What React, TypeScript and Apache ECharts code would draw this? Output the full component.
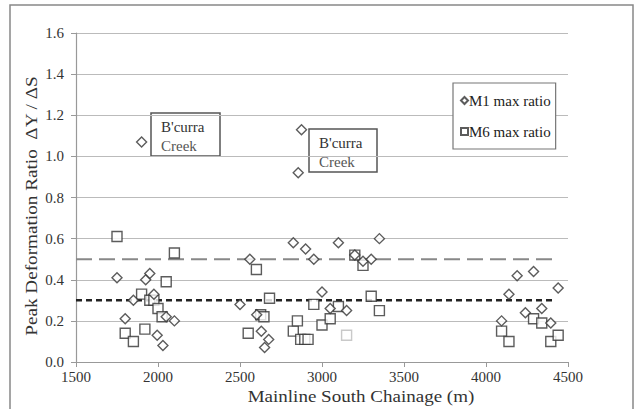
import React, { useEffect, useRef } from "react";
import * as echarts from "echarts";

const xTicks = [1500, 2000, 2500, 3000, 3500, 4000, 4500];
const yTicks = [0, 0.2, 0.4, 0.6, 0.8, 1.0, 1.2, 1.4, 1.6];

const m1X = [1750, 1800, 1850, 1900, 1925, 1950, 1975, 1995, 2030, 2050, 2100, 2500, 2560, 2602, 2630, 2650, 2675, 2825, 2855, 2875, 2900, 2950, 3000, 3050, 3100, 3150, 3200, 3250, 3300, 3350, 4095, 4140, 4190, 4240, 4290, 4340, 4395, 4440];
const m1Y = [0.41, 0.21, 0.30, 1.07, 0.40, 0.43, 0.33, 0.13, 0.08, 0.22, 0.20, 0.28, 0.50, 0.23, 0.15, 0.07, 0.11, 0.58, 0.92, 1.13, 0.55, 0.50, 0.34, 0.26, 0.58, 0.25, 0.52, 0.49, 0.50, 0.60, 0.20, 0.33, 0.42, 0.24, 0.44, 0.26, 0.19, 0.36];

const m6X = [1750, 1800, 1850, 1900, 1920, 1950, 1975, 2000, 2025, 2050, 2100, 2550, 2600, 2626, 2646, 2680, 2825, 2850, 2870, 2895, 2915, 2950, 3000, 3050, 3100, 3150, 3200, 3250, 3300, 3350, 4095, 4140, 4290, 4340, 4395, 4440];
const m6Y = [0.61, 0.14, 0.10, 0.33, 0.16, 0.30, 0.30, 0.26, 0.22, 0.39, 0.53, 0.14, 0.45, 0.23, 0.22, 0.31, 0.15, 0.20, 0.11, 0.11, 0.11, 0.28, 0.18, 0.21, 0.27, 0.13, 0.52, 0.47, 0.32, 0.25, 0.15, 0.10, 0.21, 0.19, 0.10, 0.13];
const m6Faint = [3150];

const refLines = [
  { name: "upper", y: 0.5, xStart: 1500, xEnd: 4420 },
  { name: "lower", y: 0.3, xStart: 1500, xEnd: 4420 },
];

const FONT = "'Liberation Serif', 'Times New Roman', serif";

export default function App() {
  const ref = useRef<HTMLDivElement>(null);
  useEffect(() => {
    document.body.style.margin = "0";
    const chart = echarts.init(ref.current!, null, { renderer: "svg" });
    const markerStyle = { color: "#fff", borderColor: "#333", borderWidth: 1.4 };
    const box = (x: number, y: number, w: number, h: number) => ({
      type: "group",
      x,
      y,
      children: [
        { type: "rect", shape: { x: 0, y: 0, width: w, height: h }, style: { fill: "#fff", stroke: "#555", lineWidth: 1.5 } },
        { type: "text", x: 10, y: 14, style: { text: "B'curra", font: `15px ${FONT}`, fill: "#333", textVerticalAlign: "middle" } },
        { type: "text", x: 10, y: 33, style: { text: "Creek", font: `15px ${FONT}`, fill: "#555", textVerticalAlign: "middle" } },
      ],
    });
    chart.setOption({
      animation: false,
      backgroundColor: "#fff",
      grid: { left: 76, right: 67, top: 33, bottom: 47 },
      xAxis: {
        type: "value",
        min: xTicks[0],
        max: xTicks[xTicks.length - 1],
        interval: 500,
        splitLine: { show: false },
        axisLine: { lineStyle: { color: "#999", width: 1.2 } },
        axisTick: { show: true, length: 5, lineStyle: { color: "#999" } },
        axisLabel: { fontFamily: FONT, fontSize: 15, color: "#333", margin: 7, formatter: (v: number) => String(v) },
      },
      yAxis: {
        type: "value",
        min: yTicks[0],
        max: yTicks[yTicks.length - 1],
        interval: 0.2,
        splitLine: { show: true, lineStyle: { color: "#bbb", width: 1 } },
        axisLine: { show: true, lineStyle: { color: "#999", width: 1.2 } },
        axisTick: { show: true, length: 5, lineStyle: { color: "#999" } },
        axisLabel: { fontFamily: FONT, fontSize: 15, color: "#333", margin: 12, formatter: (v: number) => v.toFixed(1) },
      },
      legend: {
        orient: "vertical",
        left: 453,
        top: 83,
        padding: [10, 5, 10, 7],
        itemGap: 16,
        itemWidth: 7,
        itemHeight: 7,
        borderColor: "#777",
        borderWidth: 1.2,
        backgroundColor: "#fff",
        textStyle: { fontFamily: FONT, fontSize: 15, color: "#222", padding: [0, 0, 0, -4] },
        data: [
          { name: "M1 max ratio", icon: "diamond" },
          { name: "M6 max ratio", icon: "rect" },
        ],
      },
      series: [
        {
          name: "lower",
          type: "line",
          data: [[refLines[1].xStart, refLines[1].y], [refLines[1].xEnd, refLines[1].y]],
          symbol: "none",
          lineStyle: { color: "#222", width: 2.5, type: [6, 4] },
          silent: true,
          z: 1,
        },
        {
          name: "upper",
          type: "line",
          data: [[refLines[0].xStart, refLines[0].y], [refLines[0].xEnd, refLines[0].y]],
          symbol: "none",
          lineStyle: { color: "#888", width: 2, type: [16, 7] },
          silent: true,
          z: 1,
        },
        {
          name: "M6 max ratio",
          type: "scatter",
          symbol: "rect",
          symbolSize: 10,
          itemStyle: markerStyle,
          data: m6X.map((x, i) =>
            m6Faint.includes(x)
              ? { value: [x, m6Y[i]], itemStyle: { color: "#fff", borderColor: "#bbb", borderWidth: 1.4 } }
              : [x, m6Y[i]]
          ),
          z: 3,
        },
        {
          name: "M1 max ratio",
          type: "scatter",
          symbol: "diamond",
          symbolSize: 10,
          itemStyle: markerStyle,
          data: m1X.map((x, i) => [x, m1Y[i]]),
          z: 4,
        },
      ],
      graphic: [
        { type: "rect", shape: { x: 10, y: 5, width: 623, height: 420 }, style: { fill: "none", stroke: "#888", lineWidth: 1.5 }, z: 0, silent: true },
        box(151, 113, 69, 43),
        box(309, 129, 68, 43),
        {
          type: "text",
          x: 32,
          y: 206,
          rotation: Math.PI / 2,
          scaleX: 1.2,
          style: { text: "Peak Deformation Ratio  \u0394Y / \u0394S", font: `16px ${FONT}`, fill: "#333", textAlign: "center", textVerticalAlign: "middle" },
        },
        {
          type: "text",
          x: 361,
          y: 396,
          scaleX: 1.12,
          style: { text: "Mainline South Chainage (m)", font: `17px ${FONT}`, fill: "#333", textAlign: "center", textVerticalAlign: "middle" },
        },
      ],
    });
    return () => chart.dispose();
  }, []);
  return <div ref={ref} style={{ position: "absolute", left: 0, top: 0, width: 635, height: 409 }} />;
}
